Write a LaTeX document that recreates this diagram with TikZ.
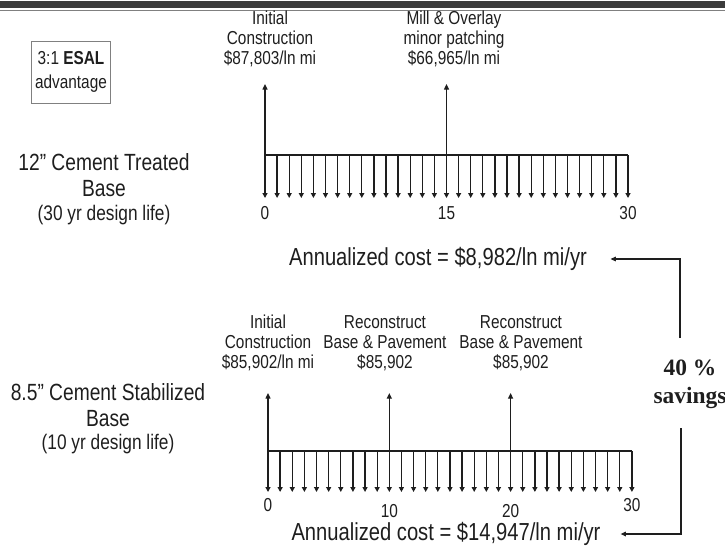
\documentclass[tikz,border=0pt]{standalone}
\usepackage{fontspec}
\setmainfont{Liberation Sans}[FakeStretch=0.82]
\newfontfamily\savingsfont{Liberation Serif}
\usetikzlibrary{arrows.meta,positioning}
\definecolor{ink}{RGB}{30,30,30}
\definecolor{bandgray}{RGB}{60,60,60}
\tikzset{
  axis/.style={line width=1.1pt, ink},
  tick/.style={-{Triangle[length=1.5mm,width=1.5mm]}, line width=1.1pt, ink},
  up/.style={-{Triangle[length=1.7mm,width=1.5mm]}, line width=1.1pt, ink},
  flow/.style={-{Triangle[length=1.6mm,width=1.4mm]}, line width=0.9pt, ink},
  event/.style={inner sep=0pt, align=center, text=ink, font=\fontsize{16}{17}\selectfont},
  basename/.style={inner sep=0pt, align=center, text=ink, font=\fontsize{20}{22}\selectfont},
  baselife/.style={inner sep=0pt, align=center, text=ink, font=\fontsize{18}{20}\selectfont},
  ticklab/.style={inner sep=0pt, text=ink, font=\fontsize{16}{18}\selectfont},
  cost/.style={inner sep=0pt, text=ink, font=\fontsize{21}{24}\selectfont},
  esalbox/.style={draw=gray, line width=0.8pt, align=center, text=ink,
                  minimum width=2.1cm, minimum height=1.86cm, font=\fontsize{16}{21}\selectfont},
  savings/.style={inner sep=0pt, align=center, text=ink, font=\savingsfont\bfseries\fontsize{20}{24}\selectfont},
}

\begin{document}
\begin{tikzpicture}[x=0.03cm, y=-0.03cm]
\useasboundingbox (0,0) rectangle (725,552);
% header rule
\fill[bandgray] (0,1) rectangle (725,8);
\draw[gray, line width=0.8pt] (0,10.5) -- (725,10.5);

\node[esalbox] (esal) at (71,72) {3:1 \textbf{ESAL}\\advantage};

% cement treated base
\node[basename] (ctb) at (104,175) {12” Cement Treated\\Base};
\node[baselife] (ctblife) at (104,215) {(30 yr design life)};

\foreach \i in {0,...,30} {
  \coordinate (a\i) at ({265+12.1*\i},155);
  \coordinate (ad\i) at ({265+12.1*\i},198);
  \draw[tick] (a\i) -- (ad\i);
}
\draw[axis] (a0) -- (a30);
\coordinate (ctbtip) at (0,84);
\draw[up] (a0) -- (a0 |- ctbtip);
\draw[up] (a15) -- (a15 |- ctbtip);
\node[event] (ctbinit) at (270,39) {Initial\\Construction\\\$87,803/ln mi};
\node[event] (ctbmill) at (454,39) {Mill \& Overlay\\minor patching\\\$66,965/ln mi};
\node[ticklab, below=7pt of ad0] (ctb0) {0};
\node[ticklab, below=7pt of ad15] (ctb15) {15};
\node[ticklab, below=7pt of ad30] (ctb30) {30};
\node[cost] (cost1) at (438,259) {Annualized cost = \$8,982/ln mi/yr};

% cement stabilized base
\node[basename] (csb) at (108,405) {8.5” Cement Stabilized\\Base};
\node[baselife] (csblife) at (108,444) {(10 yr design life)};

\foreach \i in {0,...,30} {
  \coordinate (b\i) at ({268+12.13*\i},451);
  \coordinate (bd\i) at ({268+12.13*\i},492);
  \draw[tick] (b\i) -- (bd\i);
}
\draw[axis] (b0) -- (b30);
\coordinate (csbtip) at (0,393);
\foreach \k in {0,10,20}
  \draw[up] (b\k) -- (b\k |- csbtip);
\node[event] (csbinit) at (268,343) {Initial\\Construction\\\$85,902/ln mi};
\node[event] (csbre1) at (385,343) {Reconstruct\\Base \& Pavement\\\$85,902};
\node[event] (csbre2) at (521,343) {Reconstruct\\Base \& Pavement\\\$85,902};
\node[ticklab, below=5pt of bd0] (csb0) {0};
\node[ticklab, below=10pt of bd10] (csb10) {10};
\node[ticklab, below=10pt of bd20] (csb20) {20};
\node[ticklab, below=5pt of bd30] (csb30) {30};
\node[cost] (cost2) at (446,534) {Annualized cost = \$14,947/ln mi/yr};

% savings bracket
\node[savings] (sav) at (690,384) {40 \%\\savings};
\coordinate (savtop) at (680,338);
\coordinate (savbot) at (681,428);
\draw[flow] (savtop) |- ([xshift=20pt]cost1.east);
\draw[flow] (savbot) |- ([xshift=17pt]cost2.east);
\end{tikzpicture}
\end{document}
